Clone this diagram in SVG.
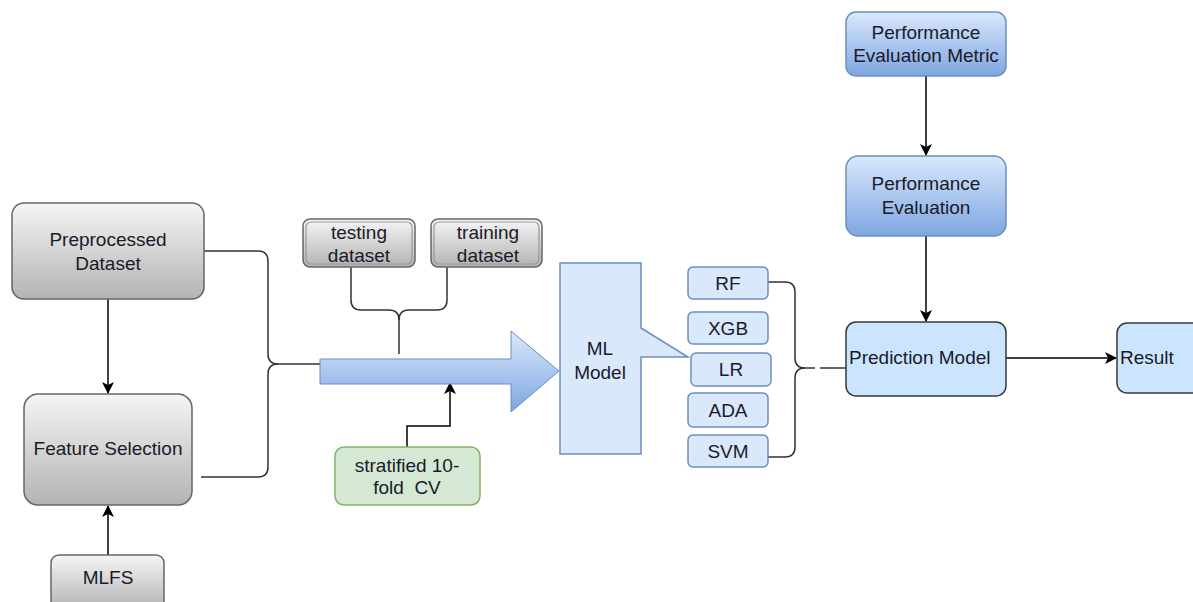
<svg xmlns="http://www.w3.org/2000/svg" width="1193" height="602" viewBox="0 0 1193 602">
<defs>
<linearGradient id="gray" x1="0" y1="0" x2="0" y2="1"><stop offset="0" stop-color="#f5f5f5"/><stop offset="1" stop-color="#b3b3b3"/></linearGradient>
<linearGradient id="blueg" x1="0" y1="0" x2="0" y2="1"><stop offset="0" stop-color="#dae8fc"/><stop offset="1" stop-color="#7ea6e0"/></linearGradient>
<linearGradient id="arrowg" x1="0" y1="0" x2="0" y2="1"><stop offset="0" stop-color="#dae8fc"/><stop offset="1" stop-color="#7ea6e0"/></linearGradient>
<marker id="ah" markerWidth="12" markerHeight="12" viewBox="0 0 12 12" refX="11" refY="6" orient="auto" markerUnits="userSpaceOnUse"><path d="M0,0 L12,6 L0,12 L3,6 Z" fill="#000"/></marker>
</defs>
<style>
text{font-family:"Liberation Sans",Arial,sans-serif;font-size:19px;fill:#1a1a2a;text-anchor:middle;dominant-baseline:central}
.g{fill:url(#gray);stroke:#666;stroke-width:1.5}
.b{fill:#dae8fc;stroke:#6c8ebf;stroke-width:1.5}
.bg{fill:url(#blueg);stroke:#6c8ebf;stroke-width:1.5}
.c{fill:none;stroke:#000;stroke-width:1.5}
.cg{fill:none;stroke:#333;stroke-width:1.5}
</style>
<g id="connectors">
<path class="c" d="M108,299 V393" marker-end="url(#ah)"/>
<path class="c" d="M108,555 V506" marker-end="url(#ah)"/>
<path class="cg" d="M204,251 H258 Q268,251 268,261 V354 Q268,364 278,364 H320"/>
<path class="cg" d="M201,477 H258 Q268,477 268,467 V374 Q268,364 278,364"/>
<path class="cg" d="M351,267 V300 Q351,310 361,310 H389 Q399,310 399,320 V354"/>
<path class="cg" d="M447,267 V300 Q447,310 437,310 H409 Q399,310 399,320"/>
<path class="c" d="M407,447 V426 H450 V383" marker-end="url(#ah)"/>
<path class="cg" d="M768,282 H785 Q795,282 795,292 V358 Q795,368 805,368 H815 M820,368 H846"/>
<path class="cg" d="M768,457 H785 Q795,457 795,447 V378 Q795,368 805,368"/>
<path class="c" d="M926,76 V155" marker-end="url(#ah)"/>
<path class="c" d="M926,236 V321" marker-end="url(#ah)"/>
<path class="c" d="M1006,358 H1116" marker-end="url(#ah)"/>
</g>
<g id="preprocessed">
<rect class="g" x="12" y="203" width="192" height="96" rx="12"/>
<text x="108" y="239">Preprocessed</text><text x="108" y="263">Dataset</text>
</g>
<g id="featureselection">
<rect class="g" x="24" y="394" width="168" height="111" rx="14"/>
<text x="108" y="448">Feature Selection</text>
</g>
<g id="mlfs">
<rect class="g" x="51" y="555" width="113" height="55" rx="8"/>
<text x="108" y="577">MLFS</text>
</g>
<g id="testing">
<rect x="303" y="219" width="112" height="48" rx="7" fill="url(#gray)" stroke="#666" stroke-width="1.5"/>
<rect x="306" y="222" width="106" height="42" rx="5" fill="none" stroke="#999" stroke-width="1.2"/>
<text x="359" y="232">testing</text><text x="359" y="255">dataset</text>
</g>
<g id="training">
<rect x="431" y="219" width="111" height="48" rx="7" fill="url(#gray)" stroke="#666" stroke-width="1.5"/>
<rect x="434" y="222" width="105" height="42" rx="5" fill="none" stroke="#999" stroke-width="1.2"/>
<text x="488" y="232">training</text><text x="488" y="255">dataset</text>
</g>
<g id="bigarrow">
<path d="M320,359 H511 V331 L559,371 L511,412 V384 H320 Z" fill="url(#arrowg)" stroke="#6c8ebf" stroke-width="1"/>
</g>
<g id="stratified">
<rect x="335" y="447" width="145" height="58" rx="9" fill="#d5e8d4" stroke="#82b366" stroke-width="1.5"/>
<text x="407" y="465">stratified 10-</text><text x="407" y="487" xml:space="preserve">fold  CV</text>
</g>
<g id="mlmodel">
<path class="b" d="M560,263 H641 V328 L688,357 H641 V454 H560 Z"/>
<text x="600" y="348">ML</text><text x="600" y="372">Model</text>
</g>
<g id="rf"><rect class="b" x="688" y="267" width="80" height="32" rx="5"/><text x="728" y="283">RF</text></g>
<g id="xgb"><rect class="b" x="688" y="312" width="80" height="32" rx="5"/><text x="728" y="328">XGB</text></g>
<g id="lr"><rect class="b" x="691" y="353" width="80" height="33" rx="5"/><text x="731" y="369">LR</text></g>
<g id="ada"><rect class="b" x="688" y="393" width="80" height="34" rx="5"/><text x="728" y="410">ADA</text></g>
<g id="svm"><rect class="b" x="688" y="435" width="80" height="32" rx="5"/><text x="728" y="451">SVM</text></g>
<g id="pem">
<rect class="bg" x="846" y="12" width="160" height="64" rx="10"/>
<text x="926" y="32">Performance</text><text x="926" y="55">Evaluation Metric</text>
</g>
<g id="pe">
<rect class="bg" x="846" y="156" width="160" height="80" rx="12"/>
<text x="926" y="183">Performance</text><text x="926" y="207">Evaluation</text>
</g>
<g id="prediction">
<rect x="846" y="322" width="160" height="74" rx="10" fill="#cce5ff" stroke="#36393d" stroke-width="1.5"/>
<text x="849" y="357" style="text-anchor:start">Prediction Model</text>
</g>
<g id="result">
<rect x="1117" y="323" width="90" height="70" rx="10" fill="#cce5ff" stroke="#36393d" stroke-width="1.5"/>
<text x="1120" y="357" style="text-anchor:start">Result</text>
</g>
</svg>
